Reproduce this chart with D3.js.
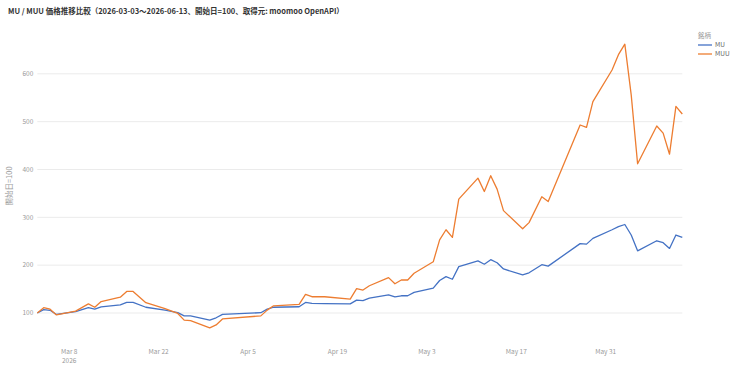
<!DOCTYPE html>
<html>
<head>
<meta charset="utf-8">
<script src="https://cdn.jsdelivr.net/npm/d3@7"></script>
<style>
  body { margin: 0; background: #fff; }
  svg { font-family: "Noto Sans CJK JP", "Noto Sans", sans-serif; }
</style>
</head>
<body>
<svg id="chart" width="734" height="365"></svg>
<script>
const dates = [
  '2026-03-03', '2026-03-04', '2026-03-05', '2026-03-06', '2026-03-09', '2026-03-11', '2026-03-12', '2026-03-13',
  '2026-03-16', '2026-03-17', '2026-03-18', '2026-03-20', '2026-03-23', '2026-03-25', '2026-03-26', '2026-03-27',
  '2026-03-30', '2026-03-31', '2026-04-01', '2026-04-07', '2026-04-08', '2026-04-09', '2026-04-13', '2026-04-14',
  '2026-04-15', '2026-04-17', '2026-04-21', '2026-04-22', '2026-04-23', '2026-04-24', '2026-04-27', '2026-04-28',
  '2026-04-29', '2026-04-30', '2026-05-01', '2026-05-04', '2026-05-05', '2026-05-06', '2026-05-07', '2026-05-08',
  '2026-05-11', '2026-05-12', '2026-05-13', '2026-05-14', '2026-05-15', '2026-05-18', '2026-05-19', '2026-05-21',
  '2026-05-22', '2026-05-27', '2026-05-28', '2026-05-29', '2026-06-01', '2026-06-02', '2026-06-03', '2026-06-04',
  '2026-06-05', '2026-06-08', '2026-06-09', '2026-06-10', '2026-06-11', '2026-06-12',
];

const muValues = [
  100, 107, 105.6, 97, 103, 111, 108, 113,
  117, 122, 122, 112, 106, 100.6, 94, 94,
  85, 90, 97, 100.6, 108, 112, 113, 122,
  120, 119.5, 119, 127, 126, 131, 138, 133.5,
  136, 136, 143, 152, 168, 176, 170.5, 197,
  209, 202, 211.5, 205, 192, 179.5, 184, 201,
  198, 245, 244, 256, 274, 280.5, 285, 263,
  230, 251, 247, 235, 263, 258,
];

const muuValues = [
  100, 111, 108, 96, 104, 119, 112, 124,
  133, 145, 145, 121.5, 109, 99, 85, 84,
  69, 75, 87.5, 94, 106, 115, 118, 139,
  134, 134, 129, 151, 148, 157, 174, 161,
  169, 169, 183, 207, 253, 274, 258, 338,
  382, 354, 387, 359, 314, 276, 289, 343,
  333, 493, 488, 542, 608, 640, 662, 556,
  412, 491, 476, 432, 532, 516,
];

const seriesNames = ['MU', 'MUU'];
const seriesColors = ['#4472C4', '#ED7D31'];
const yTicks = [100, 200, 300, 400, 500, 600];
const xTickDates = ['2026-03-08', '2026-03-22', '2026-04-05', '2026-04-19', '2026-05-03', '2026-05-17', '2026-05-31'];

const parse = d3.timeParse('%Y-%m-%d');
const series = [muValues, muuValues].map((vals, i) => ({
  name: seriesNames[i],
  color: seriesColors[i],
  points: vals.map((v, j) => ({ date: parse(dates[j]), value: v })),
}));

const margin = { top: 30, right: 51.7, bottom: 23, left: 37.3 };
const width = 734;
const height = 365;

const svg = d3.select('#chart');

const allVals = muValues.concat(muuValues);
const lo = d3.min(allVals);
const hi = d3.max(allVals);
const pad = (hi - lo) * 0.05;

const x = d3.scaleTime()
  .domain(d3.extent(dates, parse))
  .range([margin.left, width - margin.right]);

const y = d3.scaleLinear()
  .domain([lo - pad, hi + pad])
  .range([height - margin.bottom, margin.top]);

// grid
svg.append('g')
  .attr('class', 'grid')
  .selectAll('line')
  .data(yTicks)
  .join('line')
  .attr('x1', margin.left)
  .attr('x2', width - margin.right)
  .attr('y1', d => y(d))
  .attr('y2', d => y(d))
  .attr('stroke', '#ebebeb')
  .attr('stroke-width', 1);

// y labels
svg.append('g')
  .selectAll('text')
  .data(yTicks)
  .join('text')
  .attr('x', margin.left - 4)
  .attr('y', d => y(d))
  .attr('dy', '0.35em')
  .attr('text-anchor', 'end')
  .attr('font-size', 6.5)
  .attr('fill', '#9a9a9a')
  .text(d => d);

// y title
svg.append('text')
  .attr('transform', `translate(12,${(margin.top + height - margin.bottom) / 2}) rotate(-90)`)
  .attr('text-anchor', 'middle')
  .attr('font-size', 7.5)
  .attr('fill', '#9a9a9a')
  .text('開始日=100');

// x labels
const fmt = d3.timeFormat('%b %-d');
const xl = svg.append('g')
  .selectAll('text')
  .data(xTickDates.map(parse))
  .join('text')
  .attr('x', d => x(d))
  .attr('y', 354)
  .attr('text-anchor', 'middle')
  .attr('font-size', 6.5)
  .attr('fill', '#9a9a9a');
xl.append('tspan').text(d => fmt(d));
xl.filter((d, i) => i === 0)
  .append('tspan')
  .attr('x', d => x(d))
  .attr('dy', 8.5)
  .text('2026');

// lines
const line = d3.line()
  .x(d => x(d.date))
  .y(d => y(d.value));

svg.append('g')
  .selectAll('path')
  .data(series)
  .join('path')
  .attr('fill', 'none')
  .attr('stroke', d => d.color)
  .attr('stroke-width', 1.3)
  .attr('stroke-linejoin', 'round')
  .attr('d', d => line(d.points));

// title
svg.append('text')
  .attr('x', 8)
  .attr('y', 14)
  .attr('font-size', 7.5)
  .attr('font-weight', 'bold')
  .attr('fill', '#333')
  .text('MU / MUU 価格推移比較（2026-03-03〜2026-06-13、開始日=100、取得元: moomoo OpenAPI）');

// legend
const legend = svg.append('g').attr('transform', 'translate(698,36)');
legend.append('text')
  .attr('x', 0)
  .attr('y', 0)
  .attr('dy', '0.35em')
  .attr('font-size', 6.5)
  .attr('fill', '#9a9a9a')
  .text('銘柄');
const items = legend.selectAll('g.item')
  .data(series)
  .join('g')
  .attr('class', 'item')
  .attr('transform', (d, i) => `translate(0,${9 + i * 9})`);
items.append('line')
  .attr('x1', 0)
  .attr('x2', 14)
  .attr('stroke', d => d.color)
  .attr('stroke-width', 1.3);
items.append('text')
  .attr('x', 17)
  .attr('dy', '0.35em')
  .attr('font-size', 6.5)
  .attr('fill', '#666')
  .text(d => d.name);
</script>
</body>
</html>
